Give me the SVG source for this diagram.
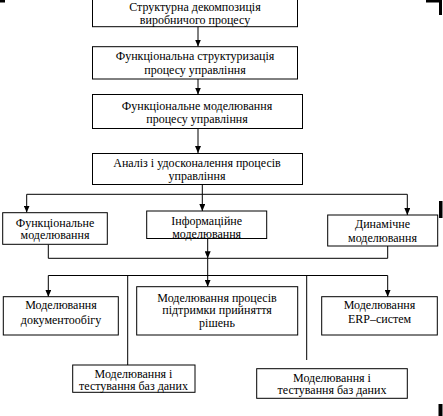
<svg xmlns="http://www.w3.org/2000/svg" width="443" height="416" viewBox="0 0 443 416">
<defs>
<style>
.box{fill:#fff;stroke:#000;stroke-width:1}
.t{font-family:"Liberation Serif","Times New Roman",serif;font-size:12px;fill:#000;text-anchor:middle}
.c{fill:none;stroke:#000;stroke-width:1}
.mark{fill:#000}
</style>
<marker id="ad" markerUnits="userSpaceOnUse" markerWidth="6" markerHeight="7" refX="3" refY="7" viewBox="0 0 6 7">
<path d="M0,0 L6,0 L3,7 Z" fill="#000"/>
</marker>
</defs>
<rect x="0" y="0" width="443" height="416" fill="#fff"/>

<g id="marks">
<rect class="mark" x="0" y="0" width="5" height="2.5"/>
<rect class="mark" x="205" y="0" width="17" height="3"/>
<rect class="mark" x="426" y="0" width="16" height="2.5"/>
<rect class="mark" x="439" y="0" width="3" height="15"/>
<rect class="mark" x="439" y="201" width="3.5" height="17"/>
<rect class="mark" x="438.5" y="404" width="4" height="12"/>
</g>

<g id="connectors">
<line class="c" x1="198" y1="27" x2="198" y2="46.5" marker-end="url(#ad)"/>
<line class="c" x1="198" y1="79" x2="198" y2="94.5" marker-end="url(#ad)"/>
<line class="c" x1="198" y1="128.5" x2="198" y2="153" marker-end="url(#ad)"/>
<polyline class="c" points="202.3,184.5 202.3,194.3"/>
<line class="c" x1="26.7" y1="194.3" x2="407.3" y2="194.3"/>
<line class="c" x1="26.7" y1="194.3" x2="26.7" y2="212.5" marker-end="url(#ad)"/>
<line class="c" x1="202.3" y1="194.3" x2="202.3" y2="211" marker-end="url(#ad)"/>
<line class="c" x1="407.3" y1="194.3" x2="407.3" y2="215" marker-end="url(#ad)"/>
<polyline class="c" points="48.3,244.5 48.3,258.3 387.7,258.3 387.7,246"/>
<line class="c" x1="207.7" y1="238.5" x2="207.7" y2="258.3" marker-end="url(#ad)"/>
<line class="c" x1="48.3" y1="275.5" x2="387.7" y2="275.5"/>
<line class="c" x1="207.7" y1="258.3" x2="207.7" y2="286.7" marker-end="url(#ad)"/>
<line class="c" x1="48.3" y1="275.5" x2="48.3" y2="296.7" marker-end="url(#ad)"/>
<line class="c" x1="387.7" y1="275.5" x2="387.7" y2="296.7" marker-end="url(#ad)"/>
<line class="c" x1="127.7" y1="275.5" x2="127.7" y2="365"/>
<line class="c" x1="306.7" y1="275.5" x2="306.7" y2="360"/>
</g>

<g id="n1">
<rect class="box" x="92.5" y="-5" width="205" height="31.7"/>
<text class="t" x="195" y="11">Структурна декомпозиція</text>
<text class="t" x="195" y="24">виробничого процесу</text>
</g>
<g id="n2">
<rect class="box" x="92.5" y="46.7" width="205" height="32.3"/>
<text class="t" x="195" y="60">Функціональна структуризація</text>
<text class="t" x="195" y="74">процесу управління</text>
</g>
<g id="n3">
<rect class="box" x="92.5" y="94.5" width="210" height="34"/>
<text class="t" x="197" y="110">Функціональне моделювання</text>
<text class="t" x="197" y="122.5">процесу управління</text>
</g>
<g id="n4">
<rect class="box" x="92.5" y="153.5" width="210" height="31"/>
<text class="t" x="197" y="167">Аналіз і удосконалення процесів</text>
<text class="t" x="197" y="179.5">управління</text>
</g>
<g id="n5">
<rect class="box" x="2.7" y="212.7" width="104.6" height="31.6"/>
<text class="t" x="55" y="226.5">Функціональне</text>
<text class="t" x="55" y="239">моделювання</text>
</g>
<g id="n6">
<rect class="box" x="146.7" y="211" width="120" height="27.5"/>
<text class="t" x="206.7" y="225">Інформаційне</text>
<text class="t" x="206.7" y="237.5">моделювання</text>
</g>
<g id="n7">
<rect class="box" x="327.7" y="215" width="110" height="31"/>
<text class="t" x="382.5" y="227.5">Динамічне</text>
<text class="t" x="382.5" y="242">моделювання</text>
</g>
<g id="n8">
<rect class="box" x="3.3" y="296.7" width="115" height="38.3"/>
<text class="t" x="61" y="309">Моделювання</text>
<text class="t" x="61" y="323.5">документообігу</text>
</g>
<g id="n9">
<rect class="box" x="136.7" y="286.7" width="161" height="48.3"/>
<text class="t" x="217" y="301.5">Моделювання процесів</text>
<text class="t" x="217" y="314">підтримки прийняття</text>
<text class="t" x="217" y="326.5">рішень</text>
</g>
<g id="n10">
<rect class="box" x="321.7" y="296.7" width="115.6" height="38.3"/>
<text class="t" x="379.5" y="309">Моделювання</text>
<text class="t" x="379.5" y="322.5">ERP–систем</text>
</g>
<g id="n11">
<rect class="box" x="72.7" y="365" width="122.3" height="27.3"/>
<text class="t" x="133.5" y="377.5">Моделювання і</text>
<text class="t" x="133.5" y="390">тестування баз даних</text>
</g>
<g id="n12">
<rect class="box" x="256.7" y="368.7" width="150.6" height="29.6"/>
<text class="t" x="332" y="381.5">Моделювання і</text>
<text class="t" x="332" y="394">тестування баз даних</text>
</g>
</svg>
